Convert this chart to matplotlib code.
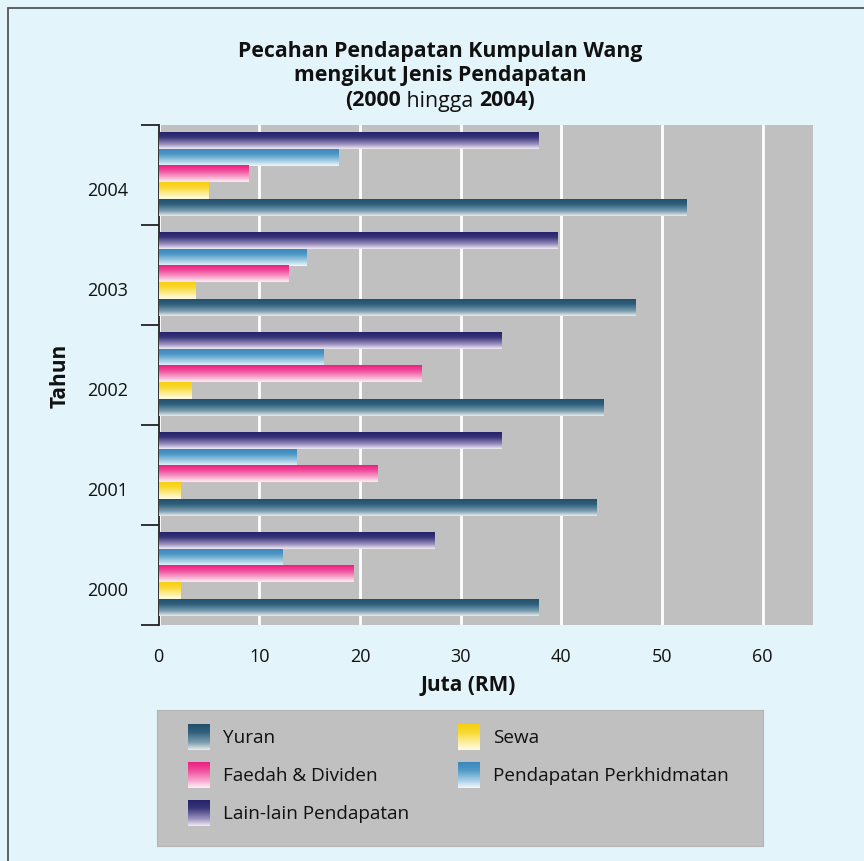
import numpy as np
import matplotlib; matplotlib.use("Agg")
import matplotlib.pyplot as plt
from matplotlib.colors import LinearSegmentedColormap
from matplotlib.patches import Rectangle

plt.rcParams['font.family'] = ['Open Sans', 'DejaVu Sans']

years = ["2000", "2001", "2002", "2003", "2004"]
# series listed top-to-bottom within each year group
series = ["Lain-lain Pendapatan", "Pendapatan Perkhidmatan", "Faedah & Dividen", "Sewa", "Yuran"]
lain = [27.4, 34.0, 34.0, 39.6, 37.7]
perkh = [12.3, 13.7, 16.3, 14.6, 17.8]
faedah = [19.3, 21.7, 26.1, 12.9, 8.9]
sewa = [2.1, 2.1, 3.2, 3.6, 4.9]
yuran = [37.7, 43.4, 44.1, 47.3, 52.4]
values = [lain, perkh, faedah, sewa, yuran]

# gradient stops (top -> bottom) per series
grads = {
    "Yuran": ["#244f6c", "#2f5f7c", "#7d9fb0", "#e8ecea"],
    "Faedah & Dividen": ["#ec1f82", "#f04a9a", "#f7a8cf", "#fdeef4"],
    "Lain-lain Pendapatan": ["#27236b", "#383478", "#9a90be", "#f0eaf4"],
    "Pendapatan Perkhidmatan": ["#3a88bb", "#4f98c6", "#a9cfe6", "#f0f7fa"],
    "Sewa": ["#f7cf10", "#f9d830", "#fcefa0", "#fffbe8"],
}
legend_order = [["Yuran", "Faedah & Dividen", "Lain-lain Pendapatan"],
                ["Sewa", "Pendapatan Perkhidmatan"]]

def cmap_for(name):
    c = grads[name]
    return LinearSegmentedColormap.from_list(name, [(0, c[0]), (0.3, c[1]), (0.72, c[2]), (1, c[3])])

grad_img = np.linspace(0, 1, 64).reshape(-1, 1)
TXT = "#111111"

W, H = 864, 862
fig = plt.figure(figsize=(W/100, H/100), dpi=100)
fig.patch.set_facecolor("#e3f4fa")
fig.patches.append(Rectangle((8/W, -0.05), 1.1, 1 - 9/H + 0.05, transform=fig.transFigure,
                             fill=False, ec="#555555", lw=1.3))

ax = fig.add_axes([158.5/W, 1-626/H, (813-158.5)/W, (626-126)/H])
ax.set_facecolor("#c0c0c0")
y = np.arange(len(years))
bh = 0.1675
for k, (name, vals) in enumerate(zip(series, values)):
    off = 0.01 + (2 - k) * bh
    bars = ax.barh(y + off, vals, height=bh, color=grads[name][1], zorder=2)
    cm = cmap_for(name)
    for p in bars:
        x0, y0, w, h = p.get_x(), p.get_y(), p.get_width(), p.get_height()
        ax.imshow(grad_img, cmap=cm, extent=[x0, x0 + w, y0, y0 + h], aspect='auto',
                  origin='upper', zorder=3, interpolation='bilinear')

ax.set_xlim(0, 65)
ax.set_ylim(-0.5, len(years) - 0.5)
ax.set_xticks(range(0, 61, 10))
ax.tick_params(axis='x', length=0, labelsize=13, pad=16, colors=TXT)
ax.grid(axis='x', color='white', lw=2, zorder=1)
ax.set_yticks(y - 0.13)
ax.set_yticklabels(years)
ax.tick_params(axis='y', length=0, labelsize=13, pad=22, colors=TXT)
ax.set_yticks(np.arange(-0.5, len(years)), minor=True)
ax.tick_params(axis='y', which='minor', length=13, width=1.3, color="#222222")
for s in ['top', 'right', 'bottom']:
    ax.spines[s].set_visible(False)
ax.spines['left'].set_color("#222222")
ax.spines['left'].set_linewidth(1.3)
ax.set_xlabel("Juta (RM)", fontsize=15, fontweight='bold', labelpad=6, color=TXT,
              x=(468-158.5)/(813-158.5))
ax.set_ylabel("Tahun", fontsize=15, fontweight='bold', labelpad=12, color=TXT)

# title
TS = 15.3
fig.text(440/W, 1-51/H, "Pecahan Pendapatan Kumpulan Wang", ha='center', va='center',
         fontsize=TS, fontweight='bold', color=TXT)
fig.text(440/W, 1-76/H, "mengikut Jenis Pendapatan", ha='center', va='center',
         fontsize=TS, fontweight='bold', color=TXT)
parts = [("(2000", 'bold'), (" hingga ", 'normal'), ("2004)", 'bold')]
fig.canvas.draw()
r = fig.canvas.get_renderer()
txts = [fig.text(0, 1-101/H, s, ha='left', va='center', fontsize=TS, fontweight=wt, color=TXT)
        for s, wt in parts]
widths = [t.get_window_extent(r).width for t in txts]
xcur = 440 - sum(widths) / 2
for t, wd in zip(txts, widths):
    t.set_x(xcur / W)
    xcur += wd

# legend
lax = fig.add_axes([157/W, 1-847/H, (763-157)/W, (847-711)/H])
lax.set_facecolor("#c0c0c0")
lax.set_xticks([]); lax.set_yticks([])
for s in lax.spines.values():
    s.set_color("#b4b4b4")
col_x = [188, 458]
row_y = [738, 776, 814]
for ci, col in enumerate(legend_order):
    for ri, name in enumerate(col):
        xs, ys = col_x[ci], row_y[ri]
        lax.imshow(grad_img, cmap=cmap_for(name), extent=[xs, xs + 22, ys + 13, ys - 13],
                   aspect='auto', origin='upper', interpolation='bilinear')
        lax.text(xs + 35, ys, name, ha='left', va='center', fontsize=13.6, color=TXT)
lax.set_xlim(157, 763)
lax.set_ylim(847, 711)

fig.savefig("out.png", dpi=100, facecolor=fig.get_facecolor())
